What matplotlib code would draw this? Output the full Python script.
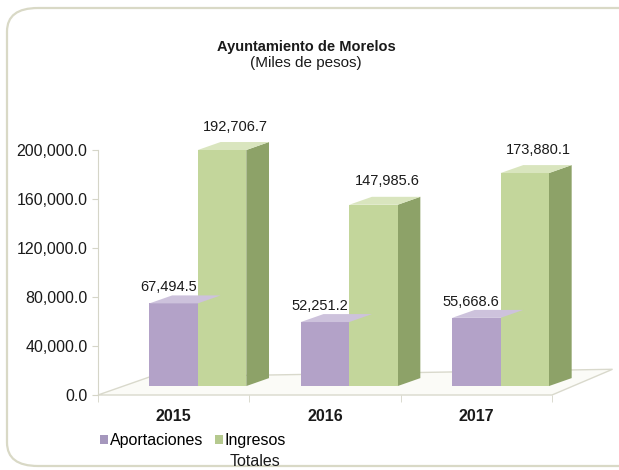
import matplotlib
matplotlib.use('Agg')
import numpy as np
from matplotlib import pyplot as plt
from matplotlib.patches import Polygon, FancyBboxPatch, Patch

plt.rcParams['font.family'] = ['Liberation Sans', 'DejaVu Sans']

# datos del grafico
years = ['2015', '2016', '2017']
aportaciones = [67494.5, 52251.2, 55668.6]
ingresos = [192706.7, 147985.6, 173880.1]
yticks = [0, 40000, 80000, 120000, 160000, 200000]

# colores (frente, tapa, lateral)
morado = ('#b3a2c8', '#cdc2dc', '#8f7daa')
verde = ('#c3d69b', '#d9e5be', '#8da268')

fig = plt.figure(figsize=(6.19, 4.70), dpi=100)
W, H = 619, 470

# marco redondeado
marco = FancyBboxPatch((7 / W, 4 / H), 700 / W, 458 / H, transform=fig.transFigure,
                       boxstyle='round,pad=0,rounding_size=0.05', facecolor='none',
                       edgecolor='#d9d9c6', linewidth=1.6, zorder=-1)
fig.patches.append(marco)

ax = fig.add_axes([98 / W, 75 / H, 454 / W, 245 / H])
ax.set_xlim(-0.5, 2.5)
ax.set_ylim(0, 200000)
ax.patch.set_alpha(0)

# piso en perspectiva
piso = Polygon([(-0.5, 0), (2.5, 0), (2.9, 21000), (-0.16, 14700)], closed=True,
               facecolor='#fbfbf7', edgecolor='#d9d9cc', linewidth=1.0, zorder=1, clip_on=False)
ax.add_patch(piso)

x = np.arange(len(years))
ancho = 0.32
base = 7300
dx, dy = 0.15, 6500


def barras(xs, vals, cols, dlabel, pad):
    ax.bar(xs, vals, width=ancho, bottom=base, color=cols[0], edgecolor='none',
           zorder=3, clip_on=False)
    for xc, v in zip(xs, vals):
        x0, x1 = xc - ancho / 2, xc + ancho / 2
        top = base + v
        ax.add_patch(Polygon([(x0, top), (x1, top), (x1 + dx, top + dy), (x0 + dx, top + dy)],
                             facecolor=cols[1], edgecolor='none', zorder=3, clip_on=False))
        ax.add_patch(Polygon([(x1, base), (x1, top), (x1 + dx, top + dy), (x1 + dx, base + dy)],
                             facecolor=cols[2], edgecolor='none', zorder=2.9, clip_on=False))
        ax.annotate(f'{v:,.1f}', (xc + dlabel, top + dy), xytext=(0, pad),
                    textcoords='offset points', ha='center', va='bottom',
                    fontsize=10.5, color='#1a1a1a', annotation_clip=False)


barras(x + ancho, ingresos, verde, 0.09, 6)
barras(x, aportaciones, morado, -0.035, 1)

# ejes
for s in ['top', 'right', 'bottom']:
    ax.spines[s].set_visible(False)
ax.spines['left'].set_color('#d5d5c8')
ax.spines['left'].set_zorder(1.5)
ax.set_yticks(yticks)
ax.set_yticklabels([f'{t:,.1f}' for t in yticks], fontsize=11.5, color='#1a1a1a')
ax.tick_params(axis='y', direction='out', length=4, color='#d5d5c8')
ax.set_xticks(x)
ax.set_xticklabels(years, fontsize=11.5, fontweight='bold', color='#1a1a1a')
ax.tick_params(axis='x', which='major', length=0, pad=10)
ax.set_xticks([-0.5, 0.5, 1.5, 2.5], minor=True)
ax.tick_params(axis='x', which='minor', direction='out', length=5, color='#d5d5c8')

# titulo
fig.text(306 / W, 1 - 47 / H, 'Ayuntamiento de Morelos', ha='center', va='center',
         fontsize=10.5, fontweight='bold', color='#1a1a1a')
fig.text(306 / W, 1 - 63 / H, '(Miles de pesos)', ha='center', va='center',
         fontsize=11, color='#1a1a1a')

# leyenda
handles = [Patch(facecolor='#a597bd', edgecolor='none'), Patch(facecolor='#b5c98e', edgecolor='none')]
leg = fig.legend(handles, ['Aportaciones', 'Ingresos'], loc='center left',
                 bbox_to_anchor=(92 / W, 1 - 441 / H), ncol=2, frameon=False,
                 fontsize=11.5, handlelength=0.5, handleheight=0.5, handletextpad=0.1,
                 columnspacing=0.75, borderpad=0)
fig.canvas.draw()
bb = leg.get_texts()[1].get_window_extent()
fig.text((bb.x0 + bb.x1) / 2 / W, bb.y0 / H - 0.012, 'Totales', ha='center', va='top',
         fontsize=11.5, color='#1a1a1a')

fig.savefig('out.png', dpi=100)
